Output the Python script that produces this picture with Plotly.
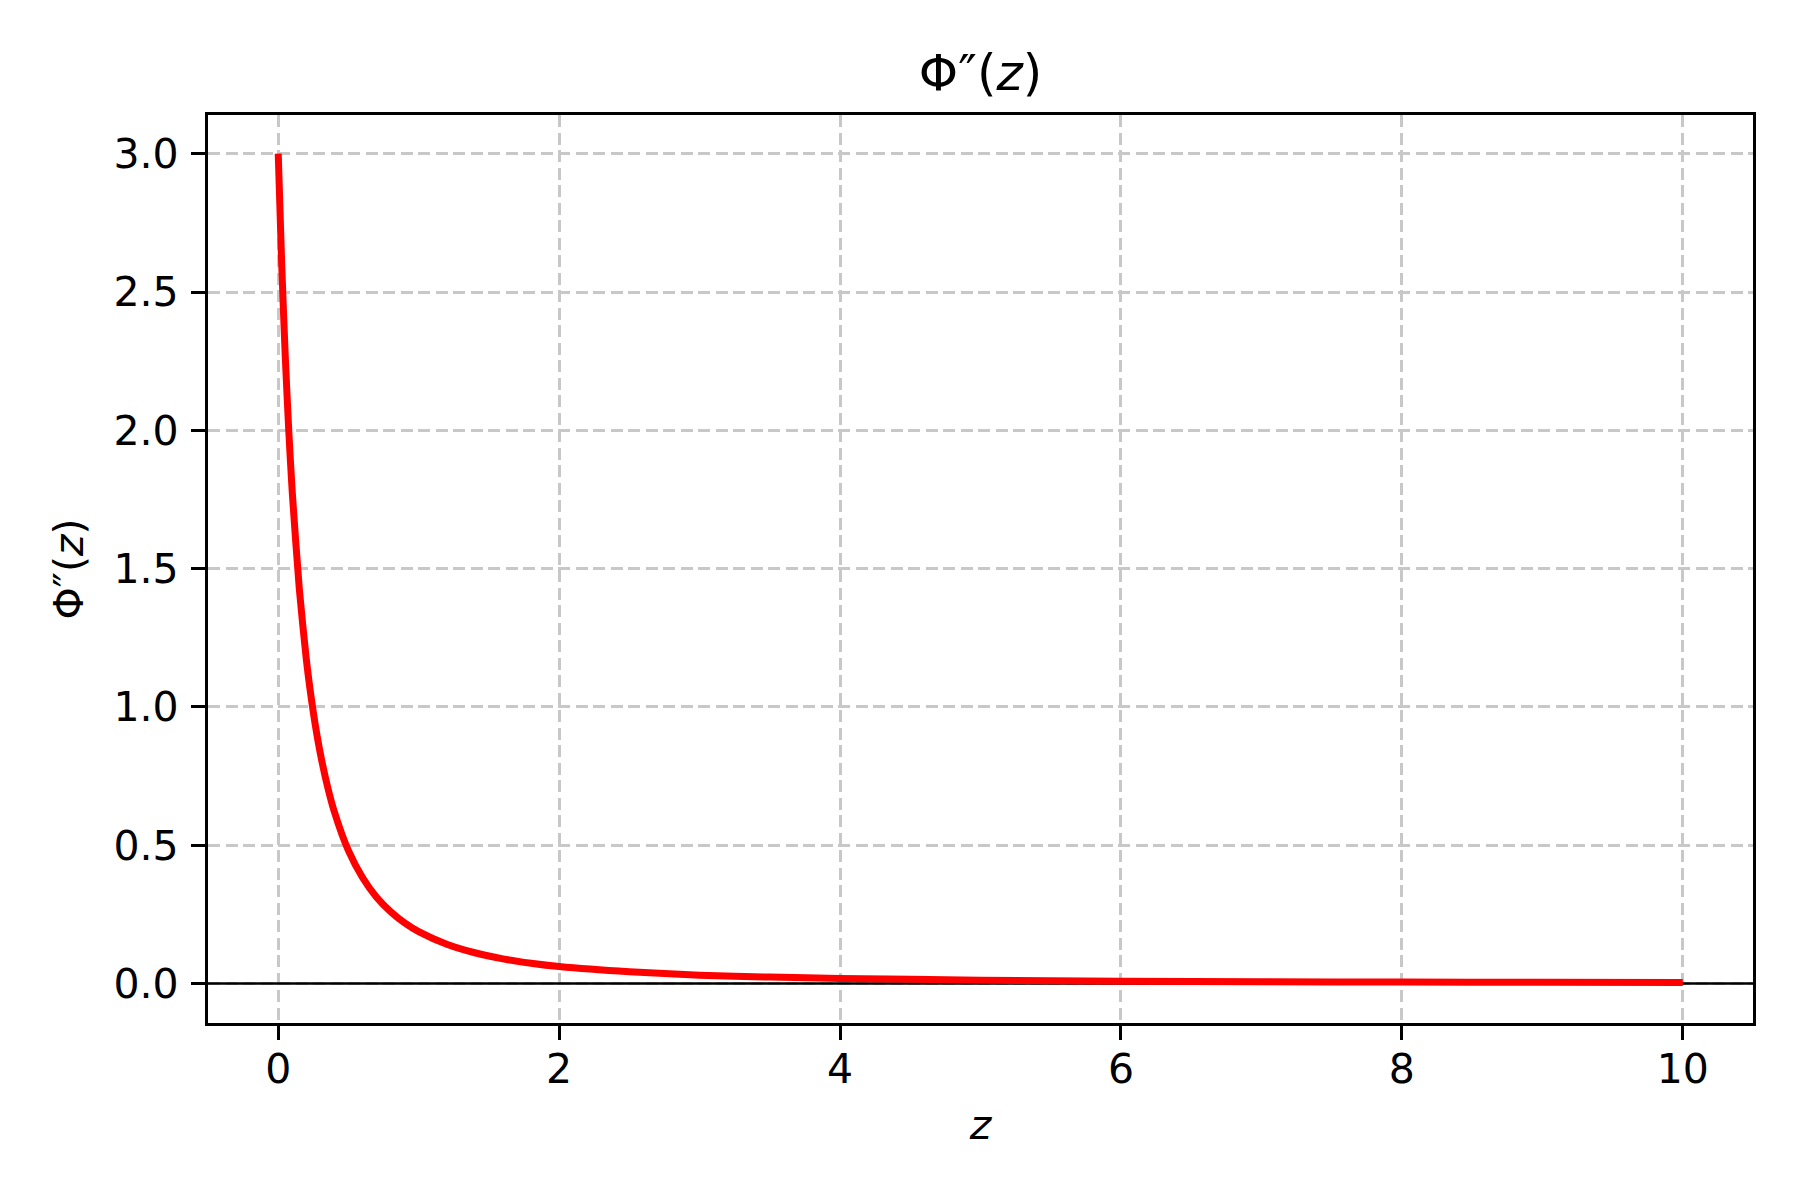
"""
Second derivative curve Phi''(z)
"""

import plotly.graph_objects as go

# values
z_values = [0, 0.025, 0.05, 0.075, 0.1, 0.15, 0.2, 0.25, 0.3, 0.35, 0.4,
            0.5, 0.6, 0.7, 0.8, 0.9, 1.0, 1.2, 1.4, 1.6, 1.8, 2.0, 2.5,
            3.0, 3.5, 4.0, 5.0, 6.0, 7.0, 8.0, 9.0, 10.0]
phi2_values = [3.0, 2.596, 2.268, 1.999, 1.775, 1.427, 1.172, 0.980, 0.831,
               0.714, 0.620, 0.480, 0.383, 0.312, 0.260, 0.219, 0.1875,
               0.142, 0.111, 0.089, 0.073, 0.061, 0.042, 0.030, 0.023,
               0.018, 0.012, 0.008, 0.006, 0.005, 0.004, 0.003]
x_ticks = [0, 2, 4, 6, 8, 10]
y_ticks = [0.0, 0.5, 1.0, 1.5, 2.0, 2.5, 3.0]

FONT = "DejaVu Sans"
GRID = "#c8c8c8"

fig = go.Figure()

# zero line
fig.add_trace(go.Scatter(
    x=[-0.5, 10.5],
    y=[0, 0],
    mode="lines",
    line=dict(color="black", width=2.5),
    hoverinfo="skip",
    showlegend=False
))

fig.add_trace(go.Scatter(
    x=z_values,
    y=phi2_values,
    mode="lines",
    line=dict(color="red", width=7, shape="spline", smoothing=0.6),
    showlegend=False
))

axis_common = dict(
    showline=True,
    linecolor="black",
    linewidth=3.2,
    mirror=True,
    ticks="outside",
    ticklen=14,
    tickwidth=3.2,
    tickcolor="black",
    showgrid=True,
    gridcolor=GRID,
    gridwidth=2.6,
    griddash="12px,5.5px",
    zeroline=False,
    tickfont=dict(family=FONT, size=41, color="black"),
)

fig.update_xaxes(
    range=[-0.5, 10.5],
    tickvals=x_ticks,
    ticktext=[str(t) for t in x_ticks],
    title=dict(text="<i>z</i>", font=dict(family=FONT, size=41, color="black"),
               standoff=19),
    ticklabelstandoff=-6,
    **axis_common
)
fig.update_yaxes(
    range=[-0.143, 3.14],
    tickvals=y_ticks,
    ticktext=[f"{t:.1f}" for t in y_ticks],
    title=dict(text="Φ″(<i>z</i>)", font=dict(family=FONT, size=41, color="black"),
               standoff=18),
    ticklabelstandoff=4,
    **axis_common
)

fig.update_layout(
    width=1800,
    height=1200,
    plot_bgcolor="white",
    paper_bgcolor="white",
    margin=dict(l=200, r=55, t=107, b=185),
    title=dict(
        text="Φ″(<i>z</i>)",
        font=dict(family=FONT, size=50, color="black"),
        x=0.5,
        xref="paper",
        y=1 - 64 / 1200,
        yref="container",
        yanchor="middle",
    ),
)

fig.write_html("out.html")
